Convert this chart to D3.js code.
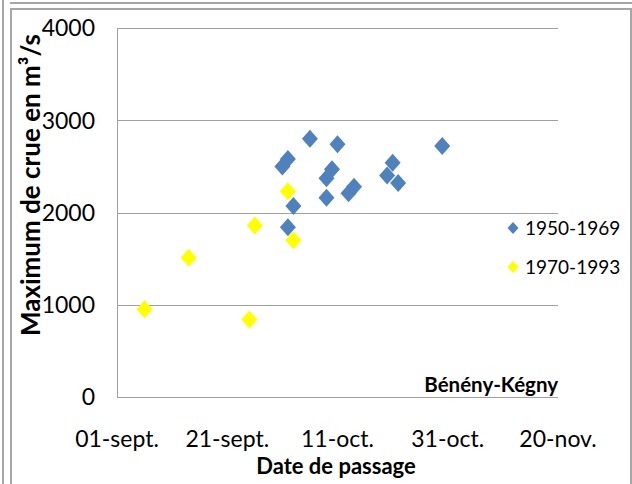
<!DOCTYPE html>
<html>
<head>
<meta charset="utf-8">
<script src="https://cdn.jsdelivr.net/npm/d3@7"></script>
<style>
  body { margin: 0; background: #fff; }
  svg { display: block; font-family: Lato, "Open Sans", sans-serif; }
</style>
</head>
<body>
<div id="chart"></div>
<script>
// Passage dates (month-day) and flood peaks
const dates1950 = ['10-06', '10-11', '10-01', '10-02', '10-09', '10-10', '10-03', '10-09',
  '10-13', '10-14', '10-02', '10-21', '10-20', '10-22', '10-30'];
const values1950 = [2800, 2740, 2500, 2580, 2370, 2470, 2070, 2160,
  2210, 2280, 1840, 2540, 2400, 2320, 2720];

const dates1970 = ['09-06', '09-14', '09-25', '10-02', '09-26', '10-03'];
const values1970 = [950, 1510, 840, 2230, 1860, 1700];

const xTickLabels = ['01-sept.', '21-sept.', '11-oct.', '31-oct.', '20-nov.'];
const xTickDates = ['09-01', '09-21', '10-11', '10-31', '11-20'];
const yTicks = [0, 1000, 2000, 3000, 4000];

const seriesNames = ['1950-1969', '1970-1993'];
const seriesColors = ['#4f81bd', '#ffff00'];

const width = 632, height = 484;
const plot = { left: 117, right: 558, top: 28, bottom: 397 };

const parseDay = d3.timeParse('%Y-%m-%d');
const toDate = md => parseDay('2001-' + md);

const svg = d3.select('#chart').append('svg')
  .attr('width', width)
  .attr('height', height);

// frame lines around the chart object
const frame = svg.append('g').style('stroke', '#a6a6a6').style('stroke-width', 2).style('fill', 'none');
frame.append('line').attr('x1', 3).attr('y1', 0).attr('x2', 3).attr('y2', height);
frame.append('line').attr('x1', 10).attr('y1', 3).attr('x2', width).attr('y2', 3);
frame.append('path').attr('d', `M11,${height}V9H631V${height}`);

const x = d3.scaleTime()
  .domain([toDate('09-01'), toDate('11-20')])
  .range([plot.left, plot.right]);

const y = d3.scaleLinear()
  .domain([0, 4000])
  .range([plot.bottom, plot.top]);

// gridlines
svg.append('g')
  .selectAll('line')
  .data(yTicks)
  .enter().append('line')
  .attr('x1', plot.left)
  .attr('x2', plot.right)
  .attr('y1', d => Math.round(y(d)) + 0.5)
  .attr('y2', d => Math.round(y(d)) + 0.5)
  .style('stroke', '#a0a0a0')
  .style('stroke-width', 1);

// left axis line
svg.append('line')
  .attr('x1', plot.left + 0.5).attr('x2', plot.left + 0.5)
  .attr('y1', plot.top).attr('y2', plot.bottom)
  .style('stroke', '#a0a0a0');

// y tick labels
svg.append('g')
  .selectAll('text')
  .data(yTicks)
  .enter().append('text')
  .attr('x', 95)
  .attr('y', d => y(d))
  .attr('dy', '0.36em')
  .style('text-anchor', 'end')
  .style('font-size', '23px')
  .style('fill', '#000')
  .text(d => d);

// x tick labels
svg.append('g')
  .selectAll('text')
  .data(xTickDates)
  .enter().append('text')
  .attr('x', d => x(toDate(d)))
  .attr('y', 447)
  .style('text-anchor', 'middle')
  .style('font-size', '23px')
  .text((d, i) => xTickLabels[i]);

// axis titles
svg.append('text')
  .attr('x', 336)
  .attr('y', 474)
  .style('text-anchor', 'middle')
  .style('font-size', '22px')
  .style('font-weight', 'bold')
  .text('Date de passage');

svg.append('text')
  .attr('transform', 'translate(40,185) rotate(-90)')
  .style('text-anchor', 'middle')
  .style('font-size', '26px')
  .style('font-weight', 'bold')
  .text('Maximum de crue en m³/s');

svg.append('text')
  .attr('x', plot.right)
  .attr('y', 392)
  .style('text-anchor', 'end')
  .style('font-size', '20.5px')
  .style('font-weight', 'bold')
  .text('Bénény-Kégny');

// diamond markers
const diamond = (cx, cy, w, h) => `M${cx},${cy - h}L${cx + w},${cy}L${cx},${cy + h}L${cx - w},${cy}Z`;

const series = [
  { name: seriesNames[0], color: seriesColors[0], dates: dates1950, values: values1950 },
  { name: seriesNames[1], color: seriesColors[1], dates: dates1970, values: values1970 }
];

series.forEach(s => {
  svg.append('g')
    .selectAll('path')
    .data(s.dates.map((d, i) => ({ date: toDate(d), value: s.values[i] })))
    .enter().append('path')
    .attr('d', d => diamond(x(d.date), y(d.value), 8, 9))
    .style('fill', s.color);
});

// legend
const legend = svg.append('g')
  .selectAll('g')
  .data(series)
  .enter().append('g')
  .attr('transform', (d, i) => `translate(513, ${228 + i * 39})`);

legend.append('path')
  .attr('d', diamond(0, 0, 5.5, 6))
  .style('fill', d => d.color);

legend.append('text')
  .attr('x', 12)
  .attr('dy', '0.36em')
  .style('font-size', '19px')
  .text(d => d.name);
</script>
</body>
</html>
